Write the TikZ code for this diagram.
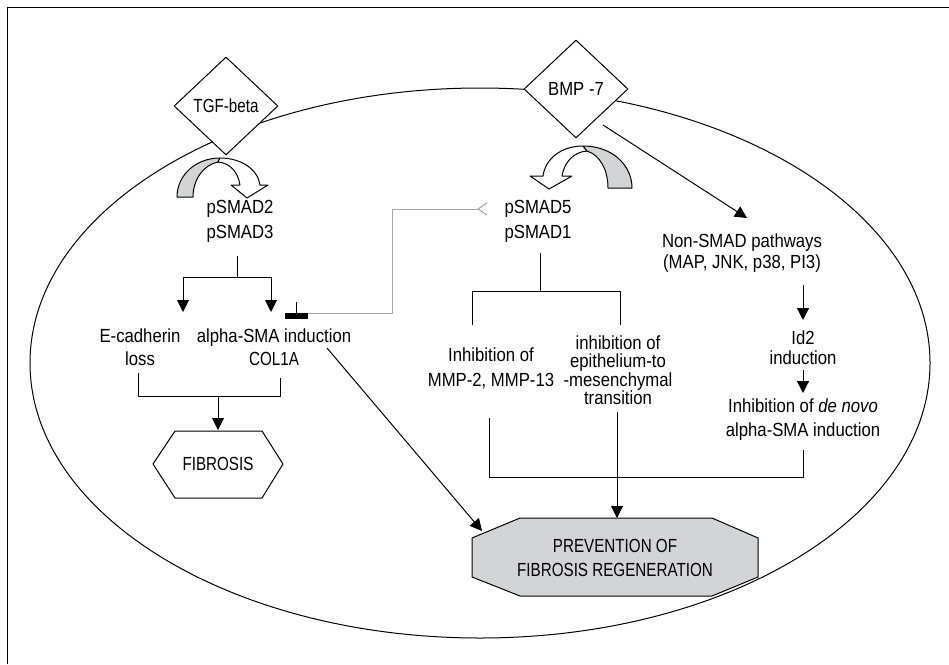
\documentclass[tikz,border=0pt]{standalone}
\usepackage{fontspec}
\setmainfont{Liberation Sans}[FakeStretch=0.88]
\newfontfamily\capsfont{Liberation Sans}[FakeStretch=0.8]
\usetikzlibrary{arrows.meta,shapes.geometric}
\definecolor{boxgray}{RGB}{211,212,214}
\definecolor{linkgray}{RGB}{165,165,165}
\begin{document}
\begin{tikzpicture}[x=1pt,y=-1pt,
  line width=1pt, line join=round,
  txt/.style={font=\fontsize{19}{23}\selectfont, align=center, inner sep=0pt},
  arr/.style={-{Triangle[length=12pt,width=12pt]}},
  signal/.style={draw, shape=diamond, fill=white, minimum width=104pt, minimum height=98pt, inner sep=0pt, font=\fontsize{19}{20}\selectfont}
]
\useasboundingbox (0,0) rectangle (949,664);
% frame
\draw (7,664) -- (7,7) -- (949,7);
% cell
\draw (480,363) ellipse [x radius=450, y radius=275];
% ligands
\node[signal, font=\capsfont\fontsize{19}{20}\selectfont] (tgf) at (226,106) {TGF-beta};
\node[signal] (bmp) at (576,89) {BMP -7};
% curved block arrows
\filldraw[fill=boxgray] (220,158) .. controls (196,158) and (177,175) .. (177,197) -- (193,197) .. controls (193,180) and (203,165) .. (218,162) -- cycle;
\filldraw[fill=white] (220,158) .. controls (242,158) and (258,170) .. (260,185) -- (268,185) -- (247,198) -- (231,185) -- (240,185) .. controls (238,172) and (230,163) .. (218,162) -- cycle;
\filldraw[fill=white] (583,146) .. controls (560,146) and (545,160) .. (543,176) -- (530,176) -- (549,189) -- (572,176) -- (562,176) .. controls (564,163) and (573,152) .. (587,151) -- cycle;
\filldraw[fill=boxgray] (583,146) .. controls (612,146) and (632,165) .. (632,188) -- (608,188) .. controls (608,170) and (600,155) .. (587,151) -- cycle;
% text nodes
\node[txt, font=\fontsize{19}{25}\selectfont] (p23) at (240,221) {pSMAD2\\pSMAD3};
\node[txt, font=\fontsize{19}{25}\selectfont] (p51) at (538,221) {pSMAD5\\pSMAD1};
\node[txt] (ecad) at (140,347) {E-cadherin\\loss};
\node[txt] (asma) at (274,347) {alpha-SMA induction\\{\capsfont COL1A}};
\node[txt, font=\capsfont\fontsize{19}{23}\selectfont] (fib) at (218,464) {FIBROSIS};
\node[txt, font=\fontsize{19}{25}\selectfont] (mmp) at (491,368) {Inhibition of\\MMP-2, MMP-13};
\node[txt, font=\fontsize{19}{18.5}\selectfont] (emt) at (618,370) {inhibition of\\epithelium-to\\-mesenchymal\\transition};
\node[txt, font=\fontsize{19}{21}\selectfont] (ns) at (742,253) {Non-SMAD pathways\\(MAP, JNK, p38, PI3)};
\node[txt, font=\fontsize{19}{20}\selectfont] (id2) at (803,348) {Id2\\induction};
\node[txt, font=\fontsize{19}{24}\selectfont] (dn) at (803,420) {Inhibition of \textit{de novo}\\alpha-SMA induction};
% FIBROSIS hexagon
\draw (153,464) -- (175,431) -- (262,431) -- (283,464) -- (262,498) -- (175,498) -- cycle;
% PREVENTION octagon
\filldraw[fill=boxgray] (472,538) -- (520,518) -- (712,518) -- (758,538) -- (758,577) -- (712,596) -- (520,596) -- (472,577) -- cycle;
\node[txt, font=\capsfont\fontsize{19}{24}\selectfont] (prev) at (615,558) {PREVENTION OF\\FIBROSIS REGENERATION};
% connector points
\coordinate (p23b) at (237,256); \coordinate (p23j) at (237,277);
\coordinate (ecadtop) at (183,312); \coordinate (asmatop) at (271,312);
\coordinate (ecadb) at (138,373); \coordinate (asmab) at (280,378);
\coordinate (fibj) at (218,396); \coordinate (fibtop) at (218,430);
\coordinate (inhb) at (296,313); \coordinate (gcorner) at (392,209); \coordinate (gtip) at (478,209);
\coordinate (p51b) at (540,253); \coordinate (p51j) at (540,291);
\coordinate (mmpt) at (472,325); \coordinate (emtt) at (620,325);
\coordinate (mmpb) at (489,418); \coordinate (emtb) at (617,412); \coordinate (dnb) at (803,450);
\coordinate (botj) at (617,477); \coordinate (prevtop) at (617,518);
\coordinate (bmpout) at (603,125); \coordinate (nstop) at (747,218);
\coordinate (nsb) at (803,285); \coordinate (id2t) at (803,320);
\coordinate (id2b) at (803,370); \coordinate (dnt) at (803,393);
\coordinate (asmaout) at (327,348); \coordinate (prevleft) at (482,531);
% TGF branch
\draw (p23b) -- (p23j);
\draw[arr] (p23j) -| (ecadtop);
\draw[arr] (p23j) -| (asmatop);
\draw (ecadb) |- (asmab |- fibj) -- (asmab);
\draw[arr] (fibj) -- (fibtop);
% inhibition by BMP-7 pathway
\draw[linkgray] (inhb) -| (gcorner) -- (gtip);
\draw[linkgray] ([shift={(9,-6)}]gtip) -- (gtip) -- ([shift={(9,6)}]gtip);
\fill (285,313) rectangle (308,319);
\draw (296,302) -- (inhb);
% BMP SMAD branch
\draw (p51b) -- (p51j);
\draw (mmpt) |- (p51j);
\draw (emtt) |- (p51j);
\draw (mmpb) |- (dnb |- botj) -- (dnb);
\draw[arr] (emtb) -- (prevtop);
% non-SMAD branch
\draw[arr] (bmpout) -- (nstop);
\draw[arr] (nsb) -- (id2t);
\draw[arr] (id2b) -- (dnt);
% alpha-SMA to prevention
\draw[arr] (asmaout) -- (prevleft);
\end{tikzpicture}
\end{document}
